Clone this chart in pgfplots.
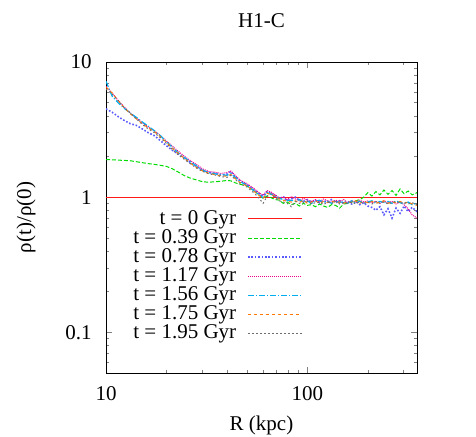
\documentclass[border=0pt]{standalone}
\usepackage{fontspec}
\setmainfont{Liberation Serif}
\usepackage{pgfplots}
\usepackage{pgfplotstable}
\pgfplotsset{compat=1.18}

\definecolor{lngreen}{RGB}{0,220,0}
\definecolor{lnblue}{RGB}{90,90,255}
\definecolor{lnorange}{RGB}{255,120,0}
\definecolor{lngray}{RGB}{110,110,110}

% rho(t)/rho(0) against R, one column per time
\pgfplotstableread{
R      c0  c1    c2    c3    c4    c5    c6
10.00  1   1.90  4.50  6.60  7.20  6.50  6.30
10.72  1   1.89  4.25  5.90  5.60  5.90  5.80
11.48  1   1.88  3.95  5.20  5.00  5.20  5.20
12.30  1   1.87  3.70  4.65  4.55  4.60  4.60
13.18  1   1.86  3.50  4.20  4.20  4.15  4.20
14.13  1   1.83  3.40  3.85  3.90  3.80  3.80
15.14  1   1.80  3.20  3.55  3.60  3.50  3.45
16.22  1   1.77  3.00  3.30  3.35  3.25  3.20
17.38  1   1.75  2.85  3.10  3.10  3.05  3.00
18.62  1   1.72  2.62  2.85  2.85  2.80  2.75
19.95  1   1.69  2.40  2.60  2.58  2.55  2.50
21.38  1   1.62  2.22  2.38  2.33  2.30  2.25
22.91  1   1.53  2.08  2.18  2.12  2.10  2.05
24.55  1   1.44  1.94  2.00  1.96  1.93  1.90
26.30  1   1.38  1.80  1.86  1.82  1.78  1.76
28.18  1   1.34  1.68  1.74  1.70  1.66  1.64
30.20  1   1.30  1.58  1.62  1.58  1.56  1.55
32.36  1   1.29  1.52  1.55  1.52  1.50  1.49
34.67  1   1.30  1.50  1.53  1.49  1.47  1.46
37.15  1   1.31  1.46  1.50  1.47  1.44  1.42
39.81  1   1.33  1.48  1.52  1.45  1.43  1.40
41.69  1   1.32  1.55  1.56  1.49  1.47  1.45
43.65  1   1.28  1.42  1.46  1.41  1.38  1.36
45.71  1   1.25  1.34  1.36  1.33  1.30  1.28
47.86  1   1.23  1.28  1.30  1.27  1.25  1.23
50.12  1   1.21  1.24  1.26  1.22  1.21  1.19
52.48  1   1.16  1.17  1.20  1.16  1.15  1.12
54.95  1   1.10  1.12  1.14  1.10  1.09  1.06
57.54  1   1.04  1.06  1.08  1.04  1.03  0.98
60.26  1   0.98  1.02  1.03  0.99  0.98  0.90
63.10  1   1.02  1.10  1.12  1.08  1.07  1.02
66.07  1   0.99  1.06  1.09  1.05  1.04  1.06
69.18  1   0.96  1.03  1.04  1.01  1.02  0.99
72.44  1   0.95  0.97  0.99  0.98  0.97  0.94
75.86  1   0.90  1.01  1.00  0.96  0.95  0.92
79.43  1   0.92  0.94  0.96  0.94  0.93  0.90
83.18  1   0.88  0.97  1.01  0.95  0.92  0.85
87.10  1   0.90  1.00  0.97  0.93  0.94  0.93
91.20  1   0.86  0.95  0.94  0.96  0.91  0.90
95.50  1   0.90  0.93  0.98  0.92  0.95  0.91
100.0  1   0.87  0.96  0.95  0.94  0.90  0.93
104.7  1   0.88  0.92  0.93  0.90  0.92  0.89
109.6  1   0.85  0.95  0.96  0.93  0.94  0.91
114.8  1   0.89  0.91  0.92  0.95  0.90  0.92
120.2  1   0.86  0.94  0.97  0.91  0.93  0.88
125.9  1   0.84  0.92  0.94  0.93  0.91  0.92
131.8  1   0.88  0.96  0.92  0.90  0.94  0.90
138.0  1   0.87  0.91  0.95  0.94  0.91  0.93
144.5  1   0.83  0.94  0.93  0.91  0.92  0.89
151.4  1   0.89  0.90  0.96  0.93  0.90  0.91
158.5  1   0.90  0.93  0.91  0.90  0.93  0.90
166.0  1   0.92  0.89  0.94  0.94  0.91  0.92
173.8  1   0.94  0.93  0.92  0.91  0.94  0.89
182.0  1   0.96  0.88  0.95  0.93  0.90  0.93
190.5  1   1.00  0.91  0.92  0.90  0.93  0.90
199.5  1   1.08  0.86  0.94  0.92  0.91  0.92
208.9  1   1.02  0.84  0.91  0.94  0.93  0.89
218.8  1   1.10  0.80  0.93  0.90  0.90  0.93
229.1  1   1.04  0.85  0.90  0.93  0.92  0.90
239.9  1   1.13  0.74  0.94  0.91  0.94  0.92
251.2  1   1.05  0.82  0.91  0.93  0.90  0.89
263.0  1   1.12  0.70  0.93  0.90  0.92  0.91
275.4  1   1.03  0.83  0.89  0.94  0.91  0.93
288.4  1   1.15  0.76  0.92  0.91  0.93  0.90
302.0  1   1.06  0.86  0.88  0.89  0.90  0.92
316.2  1   1.11  0.78  0.82  0.92  0.92  0.89
331.1  1   1.04  0.84  0.74  0.88  0.89  0.91
350.0  1   1.08  0.78  0.70  0.90  0.87  0.88
}\dens

\begin{document}
\fontsize{10.5}{12.6}\selectfont
\begin{tikzpicture}
\begin{axis}[
  at={(0,0)}, anchor=south west,
  scale only axis, width=155.5pt, height=155.5pt,
  xmode=log, ymode=log,
  xmin=10, xmax=350, ymin=0.05, ymax=10,
  xtick={10,100}, xticklabels={10,100},
  minor xtick={20,30,40,50,60,70,80,90,200,300},
  ytick={0.1,1,10}, yticklabels={0.1,1,10},
  minor ytick={0.05,0.06,0.07,0.08,0.09,0.2,0.3,0.4,0.5,0.6,0.7,0.8,0.9,2,3,4,5,6,7,8,9},
  major tick length=3pt, minor tick length=1.5pt,
  xticklabel style={yshift=-3pt},
  yticklabel style={xshift=-3.5pt},
  title={H1-C},
  title style={at={(0.5,1)}, anchor=base, yshift=11.25pt},
  xlabel={R (kpc)},
  xlabel style={at={(axis description cs:0.5,-0.17)}, anchor=center},
  ylabel={ρ(t)/ρ(0)},
  ylabel style={at={(axis description cs:-0.257,0.5)}, anchor=center},
  no markers,
  every axis plot/.append style={line width=0.5pt},
  legend style={draw=none, fill=none, at={(0.633,0.526)}, anchor=north east,
    inner sep=0pt, outer sep=0pt, /tikz/row sep=0pt, /tikz/column sep=5pt,
    nodes={inner sep=0.5pt}},
  legend cell align=right,
  legend plot pos=right,
  legend image code/.code={\draw[#1] (0pt,0pt) -- (27pt,0pt);},
]
\addplot[red!90!white, solid] table[x=R, y=c0] {\dens};
\addlegendentry{t = 0 Gyr}
\addplot[lngreen, dash pattern=on 2pt off 1pt] table[x=R, y=c1] {\dens};
\addlegendentry{t = 0.39 Gyr}
\addplot[lnblue, line width=0.8pt, dash pattern=on 0.8pt off 0.9pt] table[x=R, y=c2] {\dens};
\addlegendentry{t = 0.78 Gyr}
\addplot[magenta, dash pattern=on 0.5pt off 0.5pt] table[x=R, y=c3] {\dens};
\addlegendentry{t = 1.17 Gyr}
\addplot[cyan, line width=0.6pt, dash pattern=on 3pt off 1pt on 0.5pt off 1pt] table[x=R, y=c4] {\dens};
\addlegendentry{t = 1.56 Gyr}
\addplot[lnorange, dash pattern=on 1.5pt off 1.5pt] table[x=R, y=c5] {\dens};
\addlegendentry{t = 1.75 Gyr}
\addplot[lngray, dash pattern=on 0.8pt off 1.2pt] table[x=R, y=c6] {\dens};
\addlegendentry{t = 1.95 Gyr}
\end{axis}
\pgfresetboundingbox
\path[use as bounding box] ([shift={(-53pt,-31.5pt)}]current axis.south west)
  rectangle ([shift={(29.5pt,31pt)}]current axis.north east);
\end{tikzpicture}
\end{document}
